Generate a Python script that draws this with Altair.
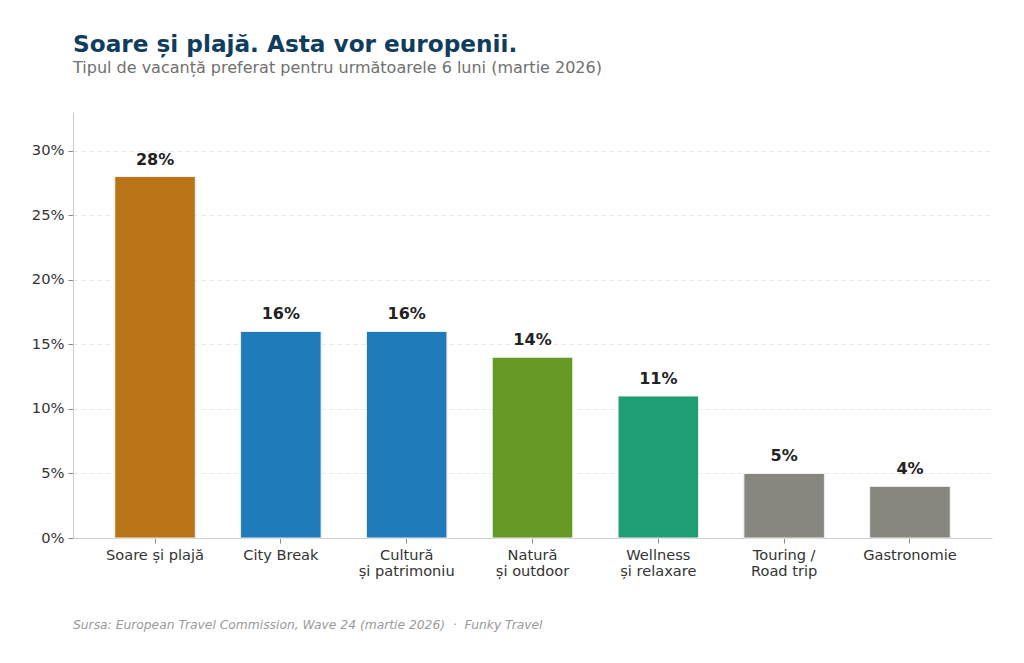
import altair as alt
import pandas as pd

categories = ["Soare și plajă", "City Break", "Cultură\nși patrimoniu", "Natură\nși outdoor",
              "Wellness\nși relaxare", "Touring /\nRoad trip", "Gastronomie"]
values = [28, 16, 16, 14, 11, 5, 4]
colors = ["#B97418", "#1F7BB9", "#1F7BB9", "#659A25", "#1E9E74", "#87877F", "#87877F"]
y_ticks = [0, 5, 10, 15, 20, 25, 30]

title = "Soare și plajă. Asta vor europenii."
subtitle = "Tipul de vacanță preferat pentru următoarele 6 luni (martie 2026)"
footer = "Sursa: European Travel Commission, Wave 24 (martie 2026)\u00a0\u00a0·\u00a0\u00a0Funky Travel"

df = pd.DataFrame({"cat": categories, "val": values, "color": colors,
                   "label": [f"{v}%" for v in values]})

FONT = "DejaVu Sans"

x = alt.X("cat:N", sort=categories,
          scale=alt.Scale(paddingInner=0.36, paddingOuter=0.332),
          axis=alt.Axis(title=None, labelAngle=0, labelExpr="split(datum.label, '\\n')",
                        labelFontSize=14.6, labelColor="#333333", labelLineHeight=16,
                        labelPadding=4, tickSize=5, tickColor="#888888",
                        domainColor="#cccccc", labelFont=FONT))
y = alt.Y("val:Q", scale=alt.Scale(domain=[0, 33], nice=False),
          axis=alt.Axis(title=None, values=y_ticks, labelExpr="datum.value + '%'",
                        labelFontSize=14.7, labelColor="#333333", labelPadding=4,
                        tickSize=5, tickColor="#888888", domainColor="#cccccc",
                        grid=True, gridColor="#e6e6e6", gridDash=[4, 4], labelFont=FONT))

bars = alt.Chart(df).mark_bar(stroke="#f0f0f0", strokeWidth=1).encode(
    x=x, y=y, color=alt.Color("color:N", scale=None))

labels = alt.Chart(df).mark_text(baseline="bottom", dy=-9, fontSize=16, fontWeight="bold",
                                 color="#222222", font=FONT).encode(
    x=alt.X("cat:N", sort=categories), y="val:Q", text="label:N")

foot = alt.Chart(pd.DataFrame({"t": [footer]})).mark_text(
    align="left", baseline="middle", fontSize=12.3, fontStyle="italic", color="#9a9a9a",
    font=FONT).encode(x=alt.value(0), y=alt.value(513), text="t:N")

chart = alt.layer(bars, labels, foot).properties(
    width=919, height=426,
    autosize=alt.AutoSizeParams(type="none"),
    padding={"left": 73, "top": 112, "right": 32, "bottom": 125},
    title=alt.TitleParams(text=title, subtitle=subtitle, anchor="start", frame="group", font=FONT,
                          fontSize=23.2, fontWeight="bold", color="#0E3D5E",
                          subtitleFont=FONT, subtitleFontSize=16, subtitleColor="#707070",
                          subtitlePadding=3, offset=35)
).configure(background="white").configure_view(stroke=None, strokeWidth=0)

chart.save("out.html", embed_options={"renderer": "svg", "actions": False})
